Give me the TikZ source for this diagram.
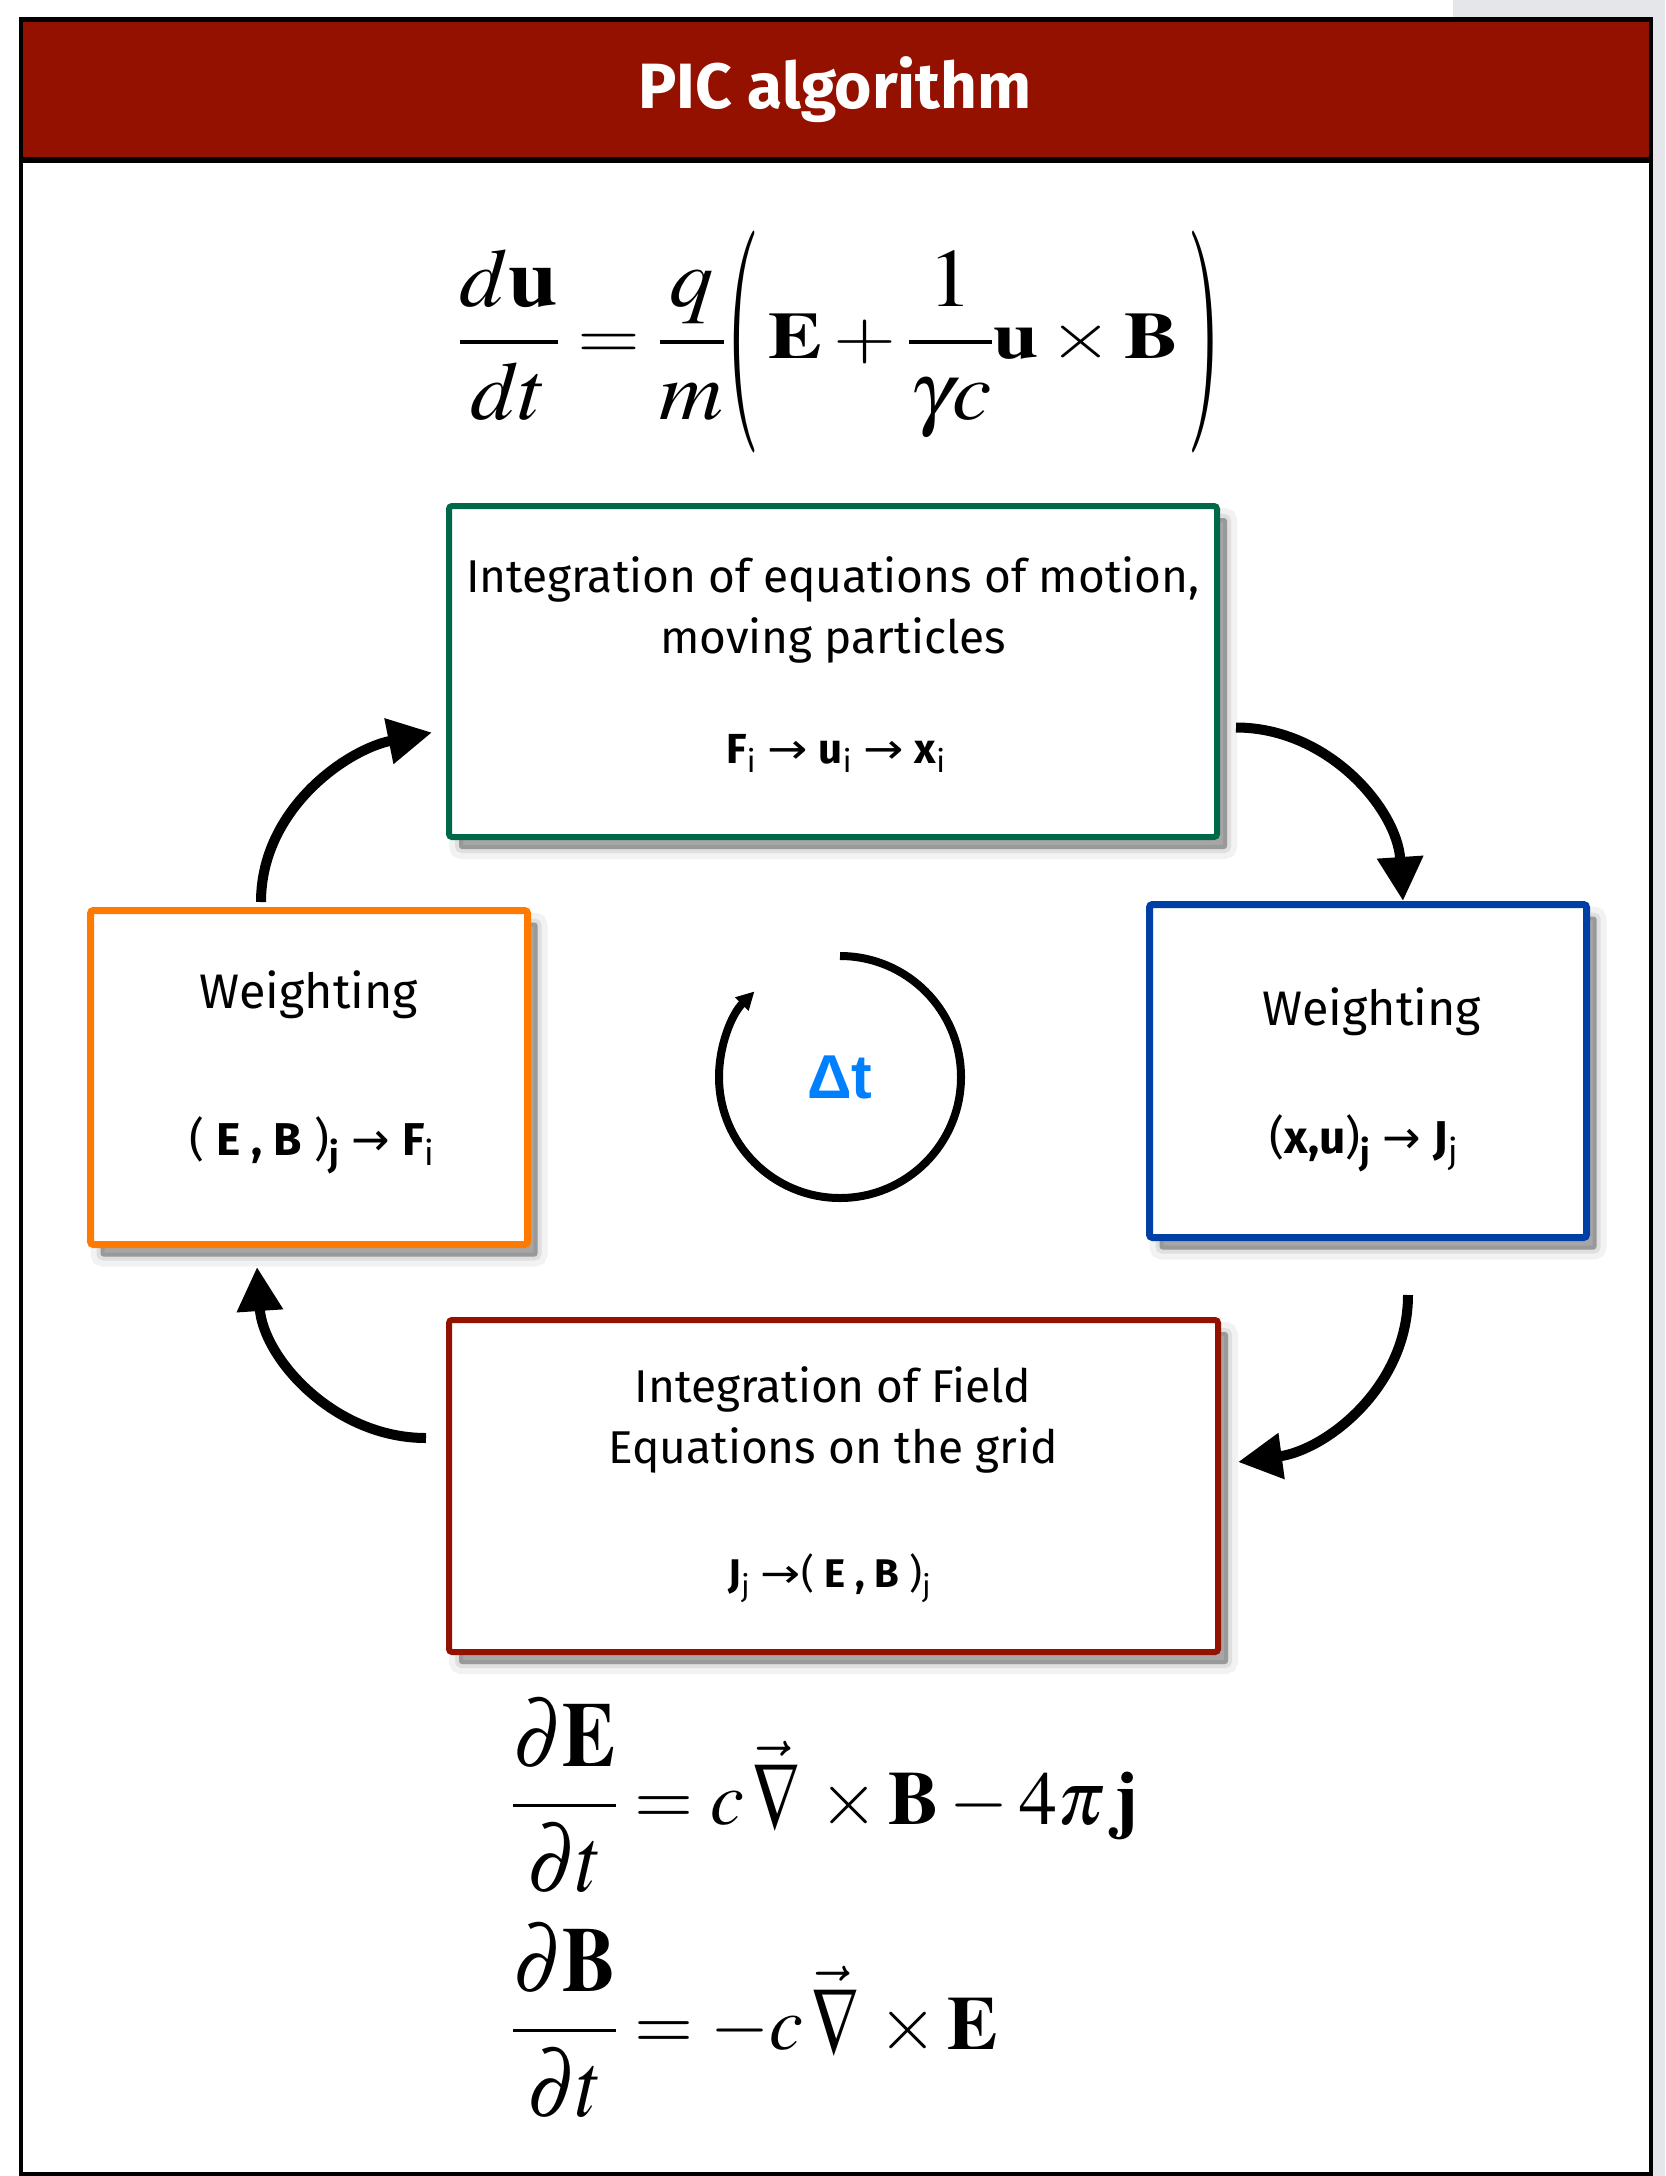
\documentclass[tikz,border=0pt]{standalone}
\usepackage{mathptmx}
\usepackage[no-math]{fontspec}
\setmainfont{Fira Sans}
\newfontfamily\arrfont{DejaVu Sans}
\newfontfamily\dtfont{Liberation Sans}
\usepackage{graphicx}
\usetikzlibrary{arrows.meta,shadows,calc}
\definecolor{titlered}{RGB}{148,17,0}
\definecolor{mgreen}{RGB}{0,104,74}
\definecolor{morange}{RGB}{255,122,0}
\definecolor{mblue}{RGB}{0,64,166}
\definecolor{dtblue}{RGB}{0,128,255}
\definecolor{panelgray}{RGB}{228,230,233}
\newcommand\arr[1][1]{\scalebox{#1}[1]{\mdseries\arrfont →}}
% fraction set taller than the main line, bar kept on the main axis
\newcommand\bigfrac[4]{\raisebox{#2}{\scalebox{1}[1.15]{\fontsize{#1}{#1}\selectfont$\displaystyle\frac{#3}{#4}$}}}
% tall thin parenthesis centred on the axis
\newcommand\tallparen[1]{\raisebox{16.5pt}{\resizebox*{28pt}{222pt}{\raisebox{-16.5pt}{$#1$}}}}
\newcommand\tallnabla{\raisebox{-7pt}{\scalebox{0.88}[1.27]{$\nabla$}}}
\begin{document}
\begin{tikzpicture}[x=1pt,y=-1pt,
  stepbox/.style={rectangle, rounded corners=3pt, fill=white, inner sep=0pt,
    general shadow={shadow xshift=10pt,shadow yshift=-12pt,fill=black,fill opacity=0.10,draw=black,draw opacity=0.05,line width=20pt},
    general shadow={shadow xshift=10pt,shadow yshift=-12pt,fill=black,fill opacity=0.12,draw=black,draw opacity=0.08,line width=8pt},
    general shadow={shadow xshift=10pt,shadow yshift=-12pt,fill=black,fill opacity=0.12,draw=none}},
  boxtext/.style={font=\fontsize{#1}{#1}\selectfont, inner sep=0pt, anchor=base},
  boxtext/.default={46pt},
  fml/.style={font=\fontsize{#1}{#1}\selectfont, inner sep=0pt, anchor=base},
  titletext/.style={text=white, font=\bfseries\fontsize{64pt}{70pt}\selectfont, inner sep=0pt, anchor=base},
  cyc/.style={line width=10pt, -{Triangle[length=44pt,width=44pt]}},
  dtarc/.style={line width=8pt, -{Triangle[length=18pt,width=18pt]}}]
\useasboundingbox (0,0) rectangle (1665,2176);
\fill[white] (0,0) rectangle (1665,2176);
\fill[panelgray] (1453,0) rectangle (1665,17);
\fill[panelgray] (1653,17) rectangle (1665,2176);
% frame and title band
\fill[titlered] (21,19.5) rectangle (1651,160);
\draw[line width=4pt] (21,19) rectangle (1651,2174);
\draw[line width=5pt] (19,19.5) -- (1653,19.5);
\draw[line width=6pt] (21,160) -- (1651,160);
\node[titletext] (title) at (835,108) {PIC algorithm};
% equation of motion
\node[inner sep=0pt, anchor=base] (lorentz) at (840,358.5) {\resizebox{763pt}{\height}{\fontsize{66pt}{80pt}\selectfont$\bigfrac{72pt}{-4.2pt}{d\mathbf{u}}{dt}=\bigfrac{72pt}{-4.2pt}{q}{m}\tallparen{(}\,\mathbf{E}+\bigfrac{72pt}{-4.2pt}{1}{\gamma c}\mathbf{u}\times\mathbf{B}\,\tallparen{)}$}};
% boxes
\node[stepbox, draw=mgreen, line width=6pt, minimum width=768pt, minimum height=331pt] (motion) at (833,671.5) {};
\node[stepbox, draw=morange, line width=7pt, minimum width=437pt, minimum height=334pt] (weightF) at (309,1077.5) {};
\node[stepbox, draw=mblue, line width=7pt, minimum width=437pt, minimum height=333pt] (weightJ) at (1368,1071) {};
\node[stepbox, draw=titlered, line width=6pt, minimum width=769pt, minimum height=332pt] (field) at (833.5,1486) {};
% box texts
\node[boxtext] (motion1) at (833,592) {Integration of equations of motion,};
\node[boxtext] (motion2) at (833,653) {moving particles};
\node[fml=42pt] (motion3) at (836,763) {{\bfseries F}\textsubscript{i}\ \arr[1.15]\ {\bfseries u}\textsubscript{i}\ \arr[1.15]\ {\bfseries x}\textsubscript{i}};
\node[boxtext=48.5pt] (wf1) at (309,1008) {Weighting};
\node[fml=46pt] (wf2) at (312,1155) {( {\bfseries E , B} )\textsubscript{\bfseries j} \arr{} {\bfseries F}\textsubscript{i}};
\node[boxtext=48.5pt] (wj1) at (1372,1025) {Weighting};
\node[fml=46pt] (wj2) at (1364,1153) {({\bfseries x,u})\textsubscript{\bfseries j} \arr{} {\bfseries J}\textsubscript{j}};
\node[boxtext] (field1) at (833,1402) {Integration of Field};
\node[boxtext] (field2) at (833,1463) {Equations on the grid};
\node[fml=40pt] (field3) at (830,1587) {{\bfseries J}\textsubscript{j} \arr[1.2]( {\bfseries E , B} )\textsubscript{j}};
% cycle arrows
\coordinate (a1s) at ([xshift=174pt,yshift=5pt]weightF.north west);
\coordinate (a1e) at ([xshift=-14pt,yshift=-61pt]motion.west);
\coordinate (a2s) at ([xshift=16pt,yshift=-56pt]motion.east);
\coordinate (a2e) at ([xshift=35pt]weightJ.north);
\coordinate (a3s) at ([xshift=40pt,yshift=-54pt]weightJ.south);
\coordinate (a3e) at ([xshift=17pt,yshift=24pt]field.east);
\coordinate (a4s) at ([xshift=-20pt,yshift=48pt]field.west);
\coordinate (a4e) at ([xshift=-52pt,yshift=-19pt]weightF.south);
\draw[cyc] (a1s) .. controls +(0,-93) and +(-85,17) .. (a1e);
\draw[cyc] (a2s) .. controls +(92,0) and +(-6,-92) .. (a2e);
\draw[cyc] (a3s) .. controls +(0,92) and +(88,-12) .. (a3e);
\draw[cyc] (a4s) .. controls +(-93,0) and +(6,90) .. (a4e);
% time step
\node[text=dtblue, inner sep=0pt, font={\dtfont\bfseries\fontsize{62pt}{70pt}\selectfont}] (dt) at (840,1077) {Δt};
\draw[dtarc] ([shift={(90:121pt)}]dt.center) arc[start angle=90,end angle=-225,radius=121pt];
% field equations
\node[anchor=base west, inner sep=0pt] (ampere) at (512,1824) {\fontsize{76pt}{90pt}\selectfont$\bigfrac{80pt}{-4.5pt}{\partial\mathbf{E}}{\partial t}=c\,\vec{\tallnabla}\,\times\mathbf{B}-4\pi\,\mathbf{j}$};
\node[anchor=base west, inner sep=0pt] (faraday) at (512,2049) {\fontsize{76pt}{90pt}\selectfont$\bigfrac{80pt}{-4.5pt}{\partial\mathbf{B}}{\partial t}=-c\,\vec{\tallnabla}\,\times\mathbf{E}$};
\end{tikzpicture}
\end{document}
